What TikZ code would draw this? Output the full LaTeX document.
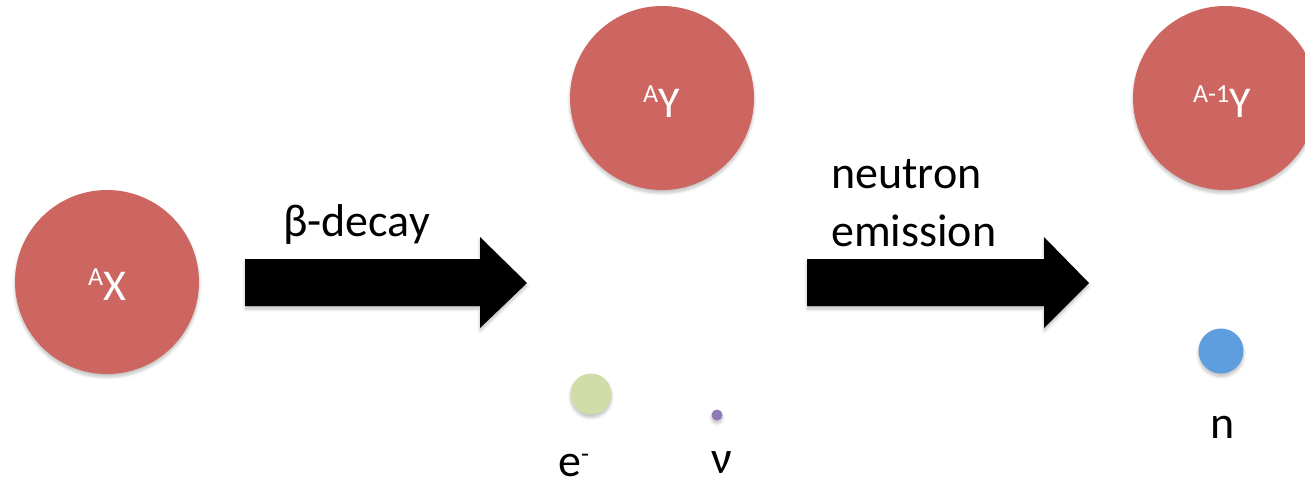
\documentclass[tikz,border=0pt]{standalone}
\usepackage{fontspec}
\setmainfont{Carlito}
\usetikzlibrary{shadows.blur}
\definecolor{nucleus}{HTML}{CD6661}
\definecolor{electron}{HTML}{D1DDA9}
\definecolor{neutrino}{HTML}{8F7AB8}
\definecolor{neutron}{HTML}{5E9EDF}
\tikzset{
  softshadow/.style={blur shadow={shadow xshift=0pt, shadow yshift=-3pt, shadow blur steps=6, shadow blur radius=3pt, shadow opacity=25}},
  particle/.style={circle, inner sep=0pt, draw=none, softshadow},
  nucleusball/.style={particle, fill=nucleus, minimum size=184pt},
  nuclabel/.style={anchor=base west, inner sep=0pt, text=white},
  caption/.style={anchor=base west, inner sep=0pt, font=\fontsize{46}{46}\selectfont},
  bigarrow/.style={fill=black, softshadow},
}
\newcommand{\supA}[1]{\raisebox{14.5pt}{\fontsize{26}{26}\selectfont #1}}
\begin{document}
\begin{tikzpicture}[x=1pt, y=-1pt]
  \useasboundingbox (0,0) rectangle (1305,480);

  % nuclei
  \node[nucleusball] (parent) at (107,282) {};
  \node[nucleusball] (daughter) at (662,98) {};
  \node[nucleusball] (final) at (1225,98) {};
  \node[nuclabel] (lparent) at (88,300) {\supA{A}\fontsize{44}{44}\selectfont X};
  \node[nuclabel] (ldaughter) at (643,117) {\supA{A}\fontsize{44}{44}\selectfont Y};
  \node[nuclabel] (lfinal) at (1193,117) {\supA{A-1}\fontsize{44}{44}\selectfont Y};

  % emitted particles
  \node[particle, fill=electron, minimum size=41pt] (electron) at (591,394) {};
  \node[particle, fill=neutrino, minimum size=11pt] (neutrino) at (717,415) {};
  \node[particle, fill=neutron, minimum size=45pt] (neutron) at (1221,351) {};
  \node[caption] (le) at (558,476) {e\raisebox{14pt}{\fontsize{26}{26}\selectfont -}};
  \node[caption] (lnu) at (711,473) {ν};
  \node[caption] (ln) at (1210,438) {n};

  % reaction arrows
  \path[bigarrow] (245,259) -- (480,259) -- (480,237) -- (527,283)
    -- (480,328) -- (480,306) -- (245,306) -- cycle;
  \path[bigarrow] (807,259) -- (1044,259) -- (1044,237) -- (1089,283)
    -- (1044,328) -- (1044,306) -- (807,306) -- cycle;

  % arrow captions
  \node[caption] (beta) at (283,236) {β-decay};
  \node[caption] (emit1) at (831,188) {neutron};
  \node[caption] (emit2) at (831,246) {emission};
\end{tikzpicture}
\end{document}
